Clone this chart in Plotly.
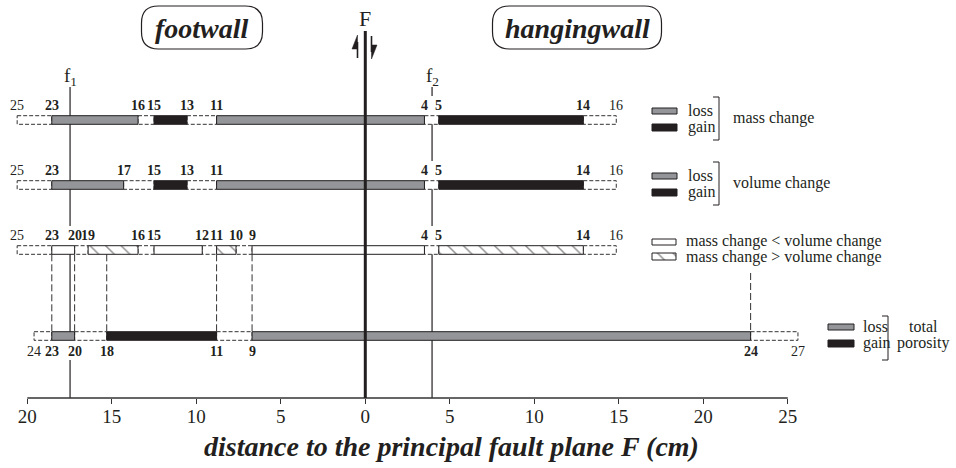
import plotly.graph_objects as go

# ---- sample positions along each profile (cm from fault plane F; footwall < 0) ----
mass_pos = [-20.6, -18.55, -13.45, -12.5, -10.55, -8.8, 3.5, 4.35, 12.9, 14.85]
mass_lbl = ["25", "23", "16", "15", "13", "11", "4", "5", "14", "16"]
mass_seg = ["none", "loss", "none", "gain", "none", "loss", "none", "gain", "none"]

vol_pos = [-20.6, -18.55, -14.3, -12.5, -10.55, -8.8, 3.5, 4.35, 12.9, 14.85]
vol_lbl = ["25", "23", "17", "15", "13", "11", "4", "5", "14", "16"]
vol_seg = ["none", "loss", "none", "gain", "none", "loss", "none", "gain", "none"]

cmp_pos = [-20.6, -18.55, -17.2, -16.4, -13.45, -12.5, -9.65, -8.8, -7.65, -6.7,
           3.5, 4.35, 12.9, 14.85]
cmp_lbl = ["25", "23", "20", "19", "16", "15", "12", "11", "10", "9", "4", "5", "14", "16"]
cmp_seg = ["none", "lt", "none", "gt", "none", "lt", "none", "gt", "none", "lt",
           "none", "gt", "none"]

por_pos = [-19.6, -18.55, -17.2, -15.3, -8.8, -6.7, 22.8, 25.6]
por_lbl = ["24", "23", "20", "18", "11", "9", "24", "27"]
por_seg = ["none", "loss", "none", "gain", "none", "loss", "none"]

# faults: principal plane F and secondary planes f1, f2
fault_F = 0.0
fault_f1 = -17.47
fault_f2 = 3.95

# samples linked between the mass/volume profile and the porosity profile
link_pos = [-18.55, -17.2, -15.3, -8.8, -6.7, 22.8]

tick_vals = [-20, -15, -10, -5, 0, 5, 10, 15, 20, 25]
tick_text = ["20", "15", "10", "5", "0", "5", "10", "15", "20", "25"]

# ---- layout constants ----
W, H = 956, 468
X0_PX = 365.3          # pixel column of F
PX_PER_CM = 16.9
INK = "#231f20"
GRAY = "#939598"
SERIF = "Liberation Serif"


def cm(xp):
    """pixel column -> data x (cm)"""
    return (xp - X0_PX) / PX_PER_CM


BAR_HALF = 4.3
rows = [
    dict(pos=mass_pos, lbl=mass_lbl, seg=mass_seg, y=120, lab_dy=-15),
    dict(pos=vol_pos, lbl=vol_lbl, seg=vol_seg, y=185, lab_dy=-15),
    dict(pos=cmp_pos, lbl=cmp_lbl, seg=cmp_seg, y=250, lab_dy=-15),
    dict(pos=por_pos, lbl=por_lbl, seg=por_seg, y=336, lab_dy=15),
]

styles = {
    "none": dict(fillcolor="white", line=dict(color="#333333", width=1, dash="4px,2px")),
    "loss": dict(fillcolor=GRAY, line=dict(color=INK, width=1)),
    "gain": dict(fillcolor=INK, line=dict(color=INK, width=1)),
    "lt": dict(fillcolor="white", line=dict(color=INK, width=1)),
    "gt": dict(fillcolor="white", line=dict(color=INK, width=1),
               fillpattern=dict(shape="\\", size=11, solidity=0.14,
                                fgcolor=INK, bgcolor="white")),
}

polys = {k: ([], []) for k in styles}


def add_box(kind, x0, x1, y0, y1):
    xs, ys = polys[kind]
    xs += [x0, x1, x1, x0, x0, None]
    ys += [y0, y0, y1, y1, y0, None]


for r in rows:
    for i, kind in enumerate(r["seg"]):
        add_box(kind, r["pos"][i], r["pos"][i + 1], r["y"] - BAR_HALF, r["y"] + BAR_HALF)

# legend glyphs
for dy in (0, 65):
    add_box("loss", cm(652), cm(677), 108 + dy, 114 + dy)
    add_box("gain", cm(652), cm(677), 124 + dy, 131 + dy)
add_box("lt", cm(652), cm(676), 239, 245)
add_box("gt", cm(652), cm(676), 253, 260)
add_box("loss", cm(828), cm(854), 324, 330)
add_box("gain", cm(828), cm(854), 340, 347)

fig = go.Figure()
for kind in ["none", "loss", "gain", "lt", "gt"]:
    xs, ys = polys[kind]
    fig.add_trace(go.Scatter(x=xs, y=ys, mode="lines", fill="toself",
                             hoverinfo="skip", showlegend=False, **styles[kind]))

shapes = []
annotations = []

# sample labels
for r in rows:
    n = len(r["lbl"])
    for i, (p, t) in enumerate(zip(r["pos"], r["lbl"])):
        txt = t if i in (0, n - 1) else "<b>" + t + "</b>"
        annotations.append(dict(x=p, y=r["y"] + r["lab_dy"], text=txt, showarrow=False,
                                xanchor="center", yanchor="middle",
                                font=dict(family=SERIF, size=14, color=INK)))

# secondary fault traces, interrupted where sample labels sit on them
F_LABEL_Y = 77
for fpos in (fault_f1, fault_f2):
    gaps = []
    for r in rows:
        if any(abs(p - fpos) * PX_PER_CM < 9 for p in r["pos"]):
            ly = r["y"] + r["lab_dy"]
            gaps.append((r["y"], ly + 9) if r["lab_dy"] > 0 else (ly - 9, r["y"]))
    gaps.sort()
    y_start = F_LABEL_Y + 10
    for g0, g1 in gaps:
        shapes.append(dict(type="line", x0=fpos, x1=fpos, y0=y_start, y1=g0,
                           line=dict(color=INK, width=1.2), layer="below"))
        y_start = g1
    shapes.append(dict(type="line", x0=fpos, x1=fpos, y0=y_start, y1=398,
                       line=dict(color=INK, width=1.2), layer="below"))

# dashed links between profiles
for p in link_pos:
    y_top = 273 if p > 15 else 250 + BAR_HALF
    shapes.append(dict(type="line", x0=p, x1=p, y0=y_top, y1=336 - BAR_HALF,
                       line=dict(color="#333333", width=1, dash="7px,3px"), layer="below"))

# principal fault F with shear sense arrows
shapes.append(dict(type="line", x0=fault_F, x1=fault_F, y0=31, y1=398,
                   line=dict(color=INK, width=3), layer="above"))
xl, xr = cm(357.5), cm(371.5)
shapes.append(dict(type="line", x0=xl, x1=xl, y0=58, y1=42, line=dict(color=INK, width=1.6)))
shapes.append(dict(type="path", path=f"M {xl},35 L {cm(352)},49 L {xl},49 Z",
                   fillcolor=INK, line=dict(color=INK, width=0.5)))
shapes.append(dict(type="line", x0=xr, x1=xr, y0=36, y1=52, line=dict(color=INK, width=1.6)))
shapes.append(dict(type="path", path=f"M {xr},59 L {cm(377)},45 L {xr},45 Z",
                   fillcolor=INK, line=dict(color=INK, width=0.5)))

# distance axis line
shapes.append(dict(type="line", x0=tick_vals[0], x1=tick_vals[-1], y0=398, y1=398,
                   line=dict(color="#333333", width=1.3), layer="below"))


# legend brackets
def bracket(xp, y0, y1):
    x, xt = cm(xp), cm(xp - 6)
    shapes.append(dict(type="path", path=f"M {xt},{y0} L {x},{y0} L {x},{y1} L {xt},{y1}",
                       line=dict(color=INK, width=1)))


bracket(719, 97, 140)
bracket(719, 162, 205)
bracket(888, 316, 360)


# rounded labels for the two walls
def rounded(xp0, xp1, y0, y1, r):
    a, b = cm(xp0), cm(xp1)
    ra, rb = cm(xp0 + r), cm(xp1 - r)
    return (f"M {ra},{y0} L {rb},{y0} Q {b},{y0} {b},{y0 + r} L {b},{y1 - r} "
            f"Q {b},{y1} {rb},{y1} L {ra},{y1} Q {a},{y1} {a},{y1 - r} "
            f"L {a},{y0 + r} Q {a},{y0} {ra},{y0} Z")


shapes.append(dict(type="path", path=rounded(141.5, 262.5, 6, 49, 17),
                   line=dict(color=INK, width=1.2)))
shapes.append(dict(type="path", path=rounded(492.5, 661.5, 6, 49, 17),
                   line=dict(color=INK, width=1.2)))

for xp, t in [(202, "footwall"), (577, "hangingwall")]:
    annotations.append(dict(x=cm(xp), y=28, text="<b><i>" + t + "</i></b>", showarrow=False,
                            font=dict(family=SERIF, size=28, color=INK)))

annotations += [
    dict(x=fault_F, y=18, text="F", showarrow=False,
         font=dict(family=SERIF, size=22, color=INK)),
    dict(x=fault_f1, y=F_LABEL_Y, text="f<sub>1</sub>", showarrow=False,
         font=dict(family=SERIF, size=19, color=INK)),
    dict(x=fault_f2, y=F_LABEL_Y, text="f<sub>2</sub>", showarrow=False,
         font=dict(family=SERIF, size=19, color=INK)),
    dict(x=cm(451), y=446, text="<b><i>distance to the principal fault plane F (cm)</i></b>",
         showarrow=False, font=dict(family=SERIF, size=28, color=INK)),
]

# legend texts
leg = [
    (686, 110, "loss"), (686, 127, "gain"), (731, 118, "mass change"),
    (686, 175, "loss"), (686, 192, "gain"), (731, 183, "volume change"),
    (684, 241, "mass change &lt; volume change"),
    (684, 257, "mass change &gt; volume change"),
    (861, 326, "loss"), (861, 343, "gain"),
]
for xp, yp, t in leg:
    annotations.append(dict(x=cm(xp), y=yp, text=t, showarrow=False, xanchor="left",
                            yanchor="middle", font=dict(family=SERIF, size=16, color=INK)))
for yp, t in [(326, "total"), (343, "porosity")]:
    annotations.append(dict(x=cm(923), y=yp, text=t, showarrow=False, xanchor="center",
                            yanchor="middle", font=dict(family=SERIF, size=16, color=INK)))

fig.update_layout(
    width=W, height=H,
    margin=dict(l=0, r=0, t=0, b=0),
    paper_bgcolor="white", plot_bgcolor="white",
    shapes=shapes, annotations=annotations,
    xaxis=dict(range=[cm(0), cm(W)], anchor="free", position=(H - 398) / H,
               tickmode="array", tickvals=tick_vals, ticktext=tick_text,
               ticks="outside", ticklen=5, tickwidth=1, tickcolor="#333333",
               ticklabelstandoff=-4,
               showline=False, showgrid=False, zeroline=False,
               tickfont=dict(family=SERIF, size=19, color=INK)),
    yaxis=dict(range=[H, 0], visible=False),
)

fig.write_html("out.html")
